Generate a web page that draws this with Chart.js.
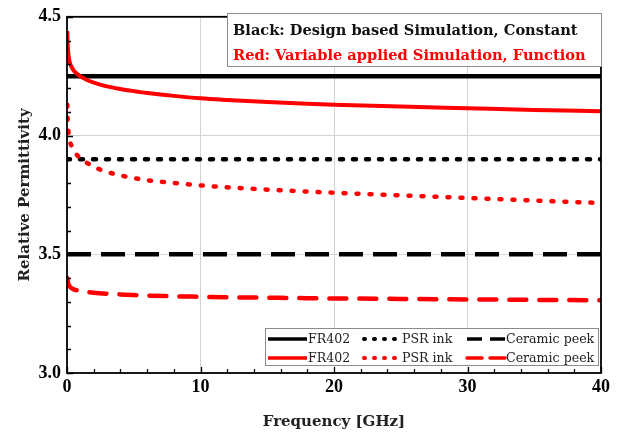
<!DOCTYPE html>
<html>
<head>
<meta charset="utf-8">
<script src="https://cdn.jsdelivr.net/npm/chart.js@4/dist/chart.umd.min.js"></script>
<style>
  html, body { margin: 0; padding: 0; background: #fff; }
  canvas { display: block; }
</style>
</head>
<body>
<canvas id="chart" width="621" height="434"></canvas>
<script>
// Frequency sweep (GHz) for the frequency-dependent permittivity models
const freqGHz = [0.02, 0.05, 0.1, 0.2, 0.35, 0.5, 0.75, 1, 1.5, 2, 3, 4, 5, 6, 8, 10, 12, 15, 18, 20, 25, 30, 35, 40];
const fr402Var = [4.44, 4.385, 4.345, 4.31, 4.288, 4.274, 4.26, 4.249, 4.234, 4.223, 4.207, 4.196, 4.187, 4.179, 4.167, 4.157, 4.150, 4.141, 4.134, 4.130, 4.122, 4.115, 4.108, 4.102];
const psrVar = [4.13, 4.065, 4.02, 3.98, 3.955, 3.94, 3.918, 3.904, 3.885, 3.868, 3.847, 3.832, 3.821, 3.812, 3.80, 3.79, 3.782, 3.772, 3.764, 3.759, 3.748, 3.737, 3.726, 3.716];
const ceramicVar = [3.40, 3.387, 3.375, 3.364, 3.357, 3.352, 3.348, 3.345, 3.341, 3.338, 3.334, 3.331, 3.328, 3.326, 3.323, 3.321, 3.319, 3.317, 3.315, 3.314, 3.312, 3.310, 3.308, 3.306];

// Design values (constant over frequency)
const constFreq = [0, 40];
const fr402Const = [4.25, 4.25];
const psrConst = [3.9, 3.9];
const ceramicConst = [3.5, 3.5];

const materialNames = ['FR402', 'PSR ink', 'Ceramic peek'];
const infoLines = ['Black: Design based Simulation, Constant', 'Red: Variable applied Simulation, Function'];

const RED = '#ff0000';
const BLACK = '#000000';
const SERIF = '"DejaVu Serif", "Liberation Serif", serif';

function pts(xs, ys) { return xs.map((x, i) => ({ x: x, y: ys[i] })); }

const blackStyles = [
  { borderDash: [], borderCapStyle: 'butt', borderWidth: 4.5 },
  { borderDash: [3, 10], borderCapStyle: 'round', borderWidth: 4.5 },
  { borderDash: [24, 10], borderCapStyle: 'butt', borderWidth: 4.5 }
];
const redStyles = [
  { borderDash: [], borderCapStyle: 'butt', borderWidth: 4 },
  { borderDash: [2, 11], borderCapStyle: 'round', borderWidth: 4.5 },
  { borderDash: [17, 13], borderCapStyle: 'round', borderWidth: 4.5 }
];

const redSets = [fr402Var, psrVar, ceramicVar].map((arr, i) => Object.assign({
  label: materialNames[i] + ' (function)',
  data: pts(freqGHz, arr),
  borderColor: RED,
  order: 0
}, redStyles[i]));

const blackSets = [fr402Const, psrConst, ceramicConst].map((arr, i) => Object.assign({
  label: materialNames[i] + ' (constant)',
  data: pts(constFreq, arr),
  borderColor: BLACK,
  order: 1
}, blackStyles[i]));

function isMultiple(v, step) { return Math.abs(v / step - Math.round(v / step)) < 1e-6; }

// Inward tick marks, plot frame, and the two legend boxes
const decorations = {
  id: 'decorations',
  afterDatasetsDraw(chart) {
    const ctx = chart.ctx;
    const a = chart.chartArea;
    const xs = chart.scales.x, ys = chart.scales.y;
    ctx.save();
    ctx.strokeStyle = '#000';
    ctx.lineWidth = 1.3;
    ctx.beginPath();
    xs.ticks.forEach(t => {
      const px = Math.round(xs.getPixelForValue(t.value)) + 0.5;
      const len = isMultiple(t.value, 10) ? 6 : 4;
      ctx.moveTo(px, a.bottom); ctx.lineTo(px, a.bottom - len);
    });
    ys.ticks.forEach(t => {
      const py = Math.round(ys.getPixelForValue(t.value)) + 0.5;
      const len = isMultiple(t.value, 0.5) ? 6 : 4;
      ctx.moveTo(a.left, py); ctx.lineTo(a.left + len, py);
    });
    ctx.stroke();
    ctx.lineWidth = 1.8;
    ctx.strokeRect(a.left, a.top, a.right - a.left, a.bottom - a.top);

    // Upper info box
    ctx.fillStyle = '#fff';
    ctx.fillRect(227.5, 13.5, 374, 53);
    ctx.strokeStyle = '#8c8c8c';
    ctx.lineWidth = 1;
    ctx.strokeRect(227.5, 13.5, 374, 53);
    ctx.font = 'bold 14.6px ' + SERIF;
    ctx.textBaseline = 'alphabetic';
    ctx.textAlign = 'left';
    ctx.fillStyle = '#111';
    ctx.fillText(infoLines[0], 233, 35);
    ctx.fillStyle = RED;
    ctx.fillText(infoLines[1], 233, 60);

    // Lower series legend
    ctx.fillStyle = '#fff';
    ctx.fillRect(265.5, 328.5, 333, 37);
    ctx.strokeStyle = '#8c8c8c';
    ctx.strokeRect(265.5, 328.5, 333, 37);
    const rows = [blackSets, redSets];
    const colX = [268, 362, 467];
    const sampleW = [39, 34, 38];
    ctx.font = '12.6px ' + SERIF;
    ctx.textBaseline = 'middle';
    rows.forEach((sets, r) => {
      const cy = 339 + r * 19;
      sets.forEach((ds, c) => {
        ctx.save();
        ctx.strokeStyle = ds.borderColor;
        ctx.lineWidth = c === 1 ? 4 : 3.5;
        ctx.lineCap = ds.borderCapStyle;
        ctx.setLineDash(c === 1 ? [1, 9] : (c === 2 ? [15, 8] : []));
        ctx.beginPath();
        ctx.moveTo(colX[c] + (c === 1 ? 2 : 0), cy);
        ctx.lineTo(colX[c] + sampleW[c], cy);
        ctx.stroke();
        ctx.restore();
        ctx.fillStyle = '#222';
        ctx.fillText(materialNames[c], colX[c] + sampleW[c] + (c === 1 ? 6 : 1), cy + 1);
      });
    });
    ctx.restore();
  }
};

const tickFont = { family: '"Liberation Serif", serif', size: 18, weight: 'bold' };
const titleFont = { family: SERIF, size: 15, weight: 'bold' };

new Chart(document.getElementById('chart'), {
  type: 'line',
  data: { datasets: redSets.concat(blackSets) },
  options: {
    responsive: false,
    animation: false,
    devicePixelRatio: 1,
    layout: { padding: { top: 12, right: 20, left: 0, bottom: 0 } },
    elements: { point: { radius: 0 }, line: { tension: 0, cubicInterpolationMode: 'monotone' } },
    plugins: { legend: { display: false }, tooltip: { enabled: false } },
    scales: {
      x: {
        type: 'linear',
        min: 0, max: 40,
        border: { display: false },
        grid: {
          drawTicks: false,
          color: c => (c.tick && isMultiple(c.tick.value, 10) && c.tick.value > 0 && c.tick.value < 40) ? '#d4d4d4' : 'rgba(0,0,0,0)',
          lineWidth: 1
        },
        ticks: {
          stepSize: 2, autoSkip: false, maxRotation: 0, padding: 4,
          color: '#000', font: tickFont,
          callback: v => isMultiple(v, 10) ? String(Math.round(v)) : ''
        },
        title: { display: true, text: 'Frequency [GHz]', color: '#222', font: titleFont, padding: { top: 0, bottom: 3 } },
        afterFit: s => { s.height = 61; }
      },
      y: {
        type: 'linear',
        min: 3.0, max: 4.5,
        border: { display: false },
        grid: {
          drawTicks: false,
          color: c => (c.tick && isMultiple(c.tick.value, 0.5) && c.tick.value > 3.01 && c.tick.value < 4.49) ? '#d4d4d4' : 'rgba(0,0,0,0)',
          lineWidth: 1
        },
        ticks: {
          stepSize: 0.1, autoSkip: false, padding: 6,
          color: '#000', font: tickFont,
          callback: v => isMultiple(v, 0.5) ? v.toFixed(1) : ''
        },
        title: { display: true, text: 'Relative Permittivity', color: '#222', font: titleFont, padding: { top: 16, bottom: 0 } },
        afterFit: s => { s.width = 67; }
      }
    }
  },
  plugins: [decorations]
});
</script>
</body>
</html>
